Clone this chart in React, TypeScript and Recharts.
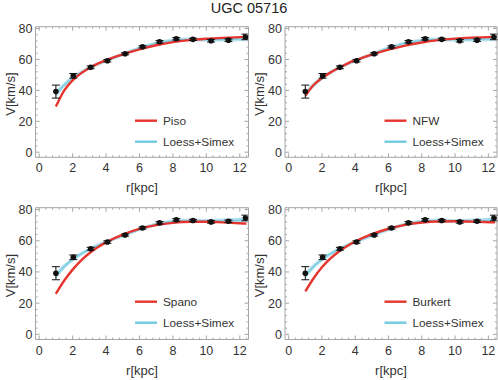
import React from "react"
import {
  ComposedChart,
  Line,
  Area,
  Scatter,
  ErrorBar,
  XAxis,
  YAxis,
} from "recharts"

// observed rotation curve (r in kpc, V in km/s, error)
const obsR = [1.0, 2.04, 3.08, 4.08, 5.14, 6.18, 7.2, 8.2, 9.2, 10.28, 11.32, 12.34]
const obsV = [39.2, 49.4, 54.9, 59.2, 63.7, 68.2, 71.5, 73.4, 73.0, 72.1, 72.5, 74.6]
const obsErr = [4.2, 1.5, 0.9, 0.8, 0.7, 0.7, 0.8, 0.8, 0.7, 0.8, 0.8, 1.8]

// model sample radii
const modelR = [1, 1.5, 2, 2.5, 3, 3.5, 4, 5, 6, 7, 8, 9, 10, 11, 12.4]

// Loess+Simex band
const loessMid = [37.5, 43.5, 48, 51.5, 54.5, 57, 59.3, 63.3, 67.3, 70.5, 72.4, 73, 72.8, 72.8, 73.6]
const loessLo = [35.3, 41.8, 46.5, 50.2, 53.3, 55.8, 58.1, 62.1, 66.1, 69.3, 71.2, 71.8, 71.6, 71.6, 72.0]
const loessHi = [39.8, 45.2, 49.5, 52.8, 55.7, 58.2, 60.5, 64.5, 68.5, 71.7, 73.6, 74.2, 74.0, 74.2, 75.3]

// fitted halo models
const pisoV = [29.5, 40, 46.5, 51, 54.5, 57.3, 59.6, 63.3, 66.5, 69.2, 71.2, 72.5, 73.4, 74, 74.6]
const nfwV = [36.5, 43.5, 48, 51.5, 54.5, 57.2, 59.5, 63.2, 66.4, 69, 71, 72.5, 73.5, 74.1, 74.6]
const spanoV = [26, 34.5, 41.5, 47.3, 52, 55.8, 59, 64, 67.6, 70, 71.5, 72.2, 72.2, 71.8, 71]
const burkertV = [27.5, 36, 43, 48.5, 53, 56.5, 59.5, 64.2, 67.7, 70.2, 71.7, 72.4, 72.5, 72.3, 71.8]

const xMajor = [0, 2, 4, 6, 8, 10, 12]
const yMajor = [0, 20, 40, 60, 80]

const RED = "#e6352f"
const CYAN = "#72cbe0"
const FRAME = "#a6a6a6"
const FONT = "'Liberation Sans', Arial, sans-serif"

const xTicks: number[] = []
for (let i = 0; i <= 31; i++) xTicks.push(Math.round(i * 0.4 * 10) / 10)
const yTicks: number[] = []
for (let i = 0; i <= 20; i++) yTicks.push(i * 4)

const obsData = obsR.map((r, i) => ({ r, v: obsV[i], e: obsErr[i] }))
const bandData = modelR.map((r, i) => ({ r, mid: loessMid[i], band: [loessLo[i], loessHi[i]] }))

const panels = [
  { name: "Piso", v: pisoV, left: 0, top: 0, plot: [35.5, 26.7, 248.5, 157.3] },
  { name: "NFW", v: nfwV, left: 249, top: 0, plot: [285, 26.7, 497, 157.3] },
  { name: "Spano", v: spanoV, left: 0, top: 190, plot: [35.5, 207.7, 248.5, 339.5] },
  { name: "Burkert", v: burkertV, left: 249, top: 190, plot: [285, 207.7, 497, 339.5] },
]

const W = 249
const H = 190

function makeTick(side: "bottom" | "top" | "left" | "right", box: number[]) {
  const [x0, y0, x1, y1] = box
  return (props: any) => {
    const c = props.payload.coordinate
    const val = props.payload.value
    if (side === "bottom" || side === "top") {
      const major = xMajor.includes(val)
      const len = major ? 4 : 2
      const y = side === "bottom" ? y1 : y0
      const dir = side === "bottom" ? -1 : 1
      return (
        <g>
          <line x1={c} x2={c} y1={y} y2={y + dir * len} stroke={FRAME} strokeWidth={1} />
          {side === "bottom" && major && (
            <text x={c} y={y + 15} textAnchor="middle" fontSize={12.5} fill="#333" fontFamily={FONT}>
              {val}
            </text>
          )}
        </g>
      )
    }
    const major = yMajor.includes(val)
    const len = major ? 4 : 2
    const x = side === "left" ? x0 : x1
    const dir = side === "left" ? 1 : -1
    return (
      <g>
        <line x1={x} x2={x + dir * len} y1={c} y2={c} stroke={FRAME} strokeWidth={1} />
        {side === "left" && major && (
          <text x={x - 3} y={c + 4.5} textAnchor="end" fontSize={12.5} fill="#333" fontFamily={FONT}>
            {val}
          </text>
        )}
      </g>
    )
  }
}

const Dot = (props: any) => <circle cx={props.cx} cy={props.cy} r={2.8} fill="#111" />

function Panel({ name, v, left, top, plot }: { name: string; v: number[]; left: number; top: number; plot: number[] }) {
  const box = [plot[0] - left, plot[1] - top, plot[2] - left, plot[3] - top]
  // axes take 1px each, so margins are 1px smaller than the frame offsets
  const margin = { left: box[0] - 1, top: box[1] - 1, right: W - box[2] - 1, bottom: H - box[3] - 1 }
  const model = modelR.map((r, i) => ({ r, v: v[i] }))
  const xDomain = [-0.22, 12.52]
  const yDomain = [-3.3, 81.2]
  return (
    <div style={{ position: "absolute", left, top }}>
      <ComposedChart width={W} height={H} margin={margin}>
        <XAxis
          xAxisId="b"
          type="number"
          dataKey="r"
          domain={xDomain}
          ticks={xTicks}
          interval={0}
          height={1}
          stroke={FRAME}
          tickLine={false}
          tick={makeTick("bottom", box)}
          allowDataOverflow
        />
        <XAxis
          xAxisId="t"
          orientation="top"
          type="number"
          dataKey="r"
          domain={xDomain}
          ticks={xTicks}
          interval={0}
          height={1}
          stroke={FRAME}
          tickLine={false}
          tick={makeTick("top", box)}
          allowDataOverflow
        />
        <YAxis
          yAxisId="l"
          type="number"
          domain={yDomain}
          ticks={yTicks}
          interval={0}
          width={1}
          stroke={FRAME}
          tickLine={false}
          tick={makeTick("left", box)}
          allowDataOverflow
        />
        <YAxis
          yAxisId="r"
          orientation="right"
          type="number"
          domain={yDomain}
          ticks={yTicks}
          interval={0}
          width={1}
          stroke={FRAME}
          tickLine={false}
          tick={makeTick("right", box)}
          allowDataOverflow
        />
        <Area
          xAxisId="b"
          yAxisId="l"
          data={bandData}
          dataKey="band"
          type="monotone"
          stroke="none"
          fill="#a9dcea"
          fillOpacity={0.85}
          isAnimationActive={false}
        />
        <Line
          xAxisId="b"
          yAxisId="l"
          data={bandData}
          dataKey="mid"
          type="monotone"
          stroke={CYAN}
          strokeWidth={1.2}
          dot={false}
          isAnimationActive={false}
        />
        <Line
          xAxisId="b"
          yAxisId="l"
          data={model}
          dataKey="v"
          type="monotone"
          stroke={RED}
          strokeWidth={2.4}
          dot={false}
          isAnimationActive={false}
        />
        <Scatter
          xAxisId="b"
          yAxisId="l"
          data={obsData}
          dataKey="v"
          shape={<Dot />}
          isAnimationActive={false}
        >
          <ErrorBar dataKey="e" direction="y" width={4} stroke="#111" strokeWidth={1} />
        </Scatter>
      </ComposedChart>
      <svg
        width={W}
        height={H}
        style={{ position: "absolute", left: 0, top: 0, pointerEvents: "none", overflow: "visible" }}
        fontFamily={FONT}
      >
        <text
          transform={`translate(${box[0] - 21},${(box[1] + box[3]) / 2 + 2}) rotate(-90)`}
          textAnchor="middle"
          fontSize={13}
          fill="#333"
        >
          V[km/s]
        </text>
        <text x={(box[0] + box[2]) / 2} y={box[3] + 35} textAnchor="middle" fontSize={13} fill="#333">
          r[kpc]
        </text>
        <line x1={box[0] + 99.5} x2={box[0] + 121.5} y1={box[1] + 94} y2={box[1] + 94} stroke={RED} strokeWidth={2.4} />
        <text x={box[0] + 127.5} y={box[1] + 98.5} fontSize={11.8} fill="#333">
          {name}
        </text>
        <line x1={box[0] + 99.5} x2={box[0] + 121.5} y1={box[1] + 115} y2={box[1] + 115} stroke={CYAN} strokeWidth={2.4} />
        <text x={box[0] + 127.5} y={box[1] + 119.5} fontSize={11.8} fill="#333">
          Loess+Simex
        </text>
      </svg>
    </div>
  )
}

export default function App() {
  return (
    <div style={{ position: "absolute", left: 0, top: 0, width: 498, height: 380, background: "#fff", fontFamily: FONT }}>
      <div style={{ position: "absolute", left: 0, top: 0, width: 498, textAlign: "center", fontSize: 14.5, lineHeight: "17px", color: "#222" }}>
        UGC 05716
      </div>
      {panels.map((p) => (
        <Panel key={p.name} {...p} />
      ))}
    </div>
  )
}
